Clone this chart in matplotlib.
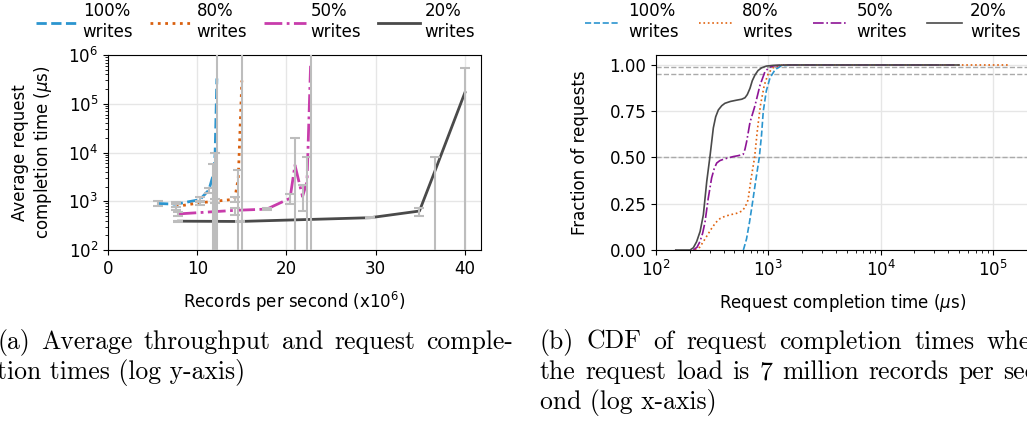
import numpy as np
import matplotlib.pyplot as plt

# ---- data: (a) average throughput vs completion time, errorbars as low/high bounds
labels = ['100%\nwrites', '80%\nwrites', '50%\nwrites', '20%\nwrites']

x_100 = [5.6, 7.6, 10.3, 11.3, 11.8, 12.0, 12.2]
y_100 = [900, 870, 1080, 1700, 3500, 9000, 330000]
lo_100 = [790, 780, 960, 1500, 0, 0, 0]
hi_100 = [1010, 980, 1220, 1900, 5800, 10000, 3e6]

x_80 = [7.6, 10.3, 12.0, 14.2, 14.6, 15.0]
y_80 = [780, 930, 1000, 1100, 3000, 300000]
lo_80 = [660, 830, 900, 950, 0, 0]
hi_80 = [870, 1030, 1100, 1200, 4400, 3e6]

x_50 = [7.9, 14.2, 17.8, 20.4, 20.95, 21.8, 22.3, 22.7]
y_50 = [550, 650, 690, 1150, 5500, 1250, 2500, 600000]
lo_50 = [510, 520, 650, 880, 0, 630, 0, 0]
hi_50 = [590, 720, 730, 1400, 20000, 2150, 8100, 3e6]

x_20 = [7.9, 14.8, 29.4, 34.9, 36.6, 40.0]
y_20 = [390, 385, 460, 630, 4000, 170000]
lo_20 = [380, 375, 450, 500, 0, 0]
hi_20 = [400, 395, 470, 720, 8100, 540000]

# ---- data: (b) CDF of completion times at 7M records/s
cdf_x_100 = [600, 640, 680, 721, 775, 831, 870, 902, 960, 1035, 1150, 1300, 1600, 30000]
cdf_y_100 = [0, 0.06, 0.15, 0.25, 0.38, 0.5, 0.62, 0.75, 0.86, 0.93, 0.975, 0.995, 1.0, 1.0]

cdf_x_80 = [222, 245, 264, 290, 313, 340, 372, 410, 456, 520, 580, 620, 660, 700, 755, 800, 850, 920, 1000, 1100, 1300, 1700, 140000]
cdf_y_80 = [0, 0.015, 0.045, 0.085, 0.117, 0.148, 0.17, 0.182, 0.19, 0.198, 0.21, 0.23, 0.27, 0.38, 0.5, 0.65, 0.78, 0.89, 0.955, 0.985, 0.999, 1.0, 1.0]

cdf_x_50 = [215, 232, 246, 260, 273, 292, 313, 330, 347, 370, 397, 440, 488, 540, 598, 620, 641, 687, 761, 843, 934, 1020, 1109, 1350, 45000]
cdf_y_50 = [0, 0.015, 0.045, 0.09, 0.15, 0.28, 0.39, 0.44, 0.47, 0.483, 0.49, 0.498, 0.505, 0.51, 0.517, 0.545, 0.585, 0.69, 0.78, 0.89, 0.964, 0.987, 0.995, 1.0, 1.0]

cdf_x_20 = [150, 201, 215, 230, 247, 264, 283, 303, 324, 340, 359, 385, 411, 460, 523, 580, 620, 650, 687, 720, 761, 810, 873, 960, 1109, 1500, 50000]
cdf_y_20 = [0, 0, 0.012, 0.045, 0.1, 0.19, 0.37, 0.51, 0.66, 0.72, 0.757, 0.78, 0.793, 0.803, 0.81, 0.815, 0.823, 0.84, 0.874, 0.915, 0.946, 0.97, 0.985, 0.994, 0.998, 1.0, 1.0]

ref_levels = [0.5, 0.95, 0.99]

caption_a = ['(a) Average throughput and request comple-', 'tion times (log y-axis)']
caption_b = ['(b) CDF of request completion times when', 'the request load is 7 million records per sec-', 'ond (log x-axis)']

# ---- styles
colors_a = ['#2b95cf', '#d9600f', '#c83cab', '#4a4a4a']
colors_b = ['#2b95cf', '#e0620f', '#8e1496', '#4a4a4a']
styles = ['--', ':', '-.', '-']

plt.rcParams['font.size'] = 12

W, H = 1027, 424
fig = plt.figure(figsize=(W / 100, H / 100), dpi=100)
ax_a = fig.add_axes([108 / W, 1 - 250 / H, 373 / W, 195 / H])
ax_b = fig.add_axes([656 / W, 1 - 250 / H, 373 / W, 195 / H])

# ---- panel (a)
series_a = [(x_100, y_100, lo_100, hi_100), (x_80, y_80, lo_80, hi_80),
            (x_50, y_50, lo_50, hi_50), (x_20, y_20, lo_20, hi_20)]
for (x, y, lo, hi), c, ls, lab in zip(series_a, colors_a, styles, labels):
    y = np.array(y, dtype=float)
    yerr = [y - np.array(lo), np.array(hi) - y]   # errorbar wants distances, not bounds
    ax_a.plot(x, y, color=c, ls=ls, lw=2, label=lab, zorder=3)
    ax_a.errorbar(x, y, yerr=yerr, fmt='none', ecolor='#bdbdbd', elinewidth=1.5,
                  capsize=3.5, capthick=1.5, zorder=4)

ax_a.set_yscale('log', nonpositive='clip')
ax_a.set_xlim(0, 41.8)
ax_a.set_ylim(1e2, 1e6)
ax_a.set_xticks([0, 10, 20, 30, 40])
ax_a.grid(True, color='#e6e6e6', lw=1)
ax_a.set_axisbelow(True)
ax_a.set_xlabel('Records per second (x$10^6$)', labelpad=9)
ax_a.set_ylabel('Average request\ncompletion time ($\\mu$s)', labelpad=10)
ax_a.legend(loc='lower left', bbox_to_anchor=(36 / W, 1 - 41 / H), bbox_transform=fig.transFigure,
            ncol=4, frameon=False, handlelength=2.5, columnspacing=1.0, handletextpad=0.3,
            borderaxespad=0, borderpad=0, labelspacing=0)

# ---- panel (b)
series_b = [(cdf_x_100, cdf_y_100), (cdf_x_80, cdf_y_80), (cdf_x_50, cdf_y_50), (cdf_x_20, cdf_y_20)]
for (x, y), c, ls, lab in zip(series_b, colors_b, styles, labels):
    ax_b.plot(x, y, color=c, ls=ls, lw=1.2, label=lab, zorder=3)

for lvl in ref_levels:
    ax_b.axhline(lvl, color='#aaaaaa', ls='--', lw=1, zorder=2)

ax_b.set_xscale('log')
ax_b.set_xlim(1e2, 10 ** (2 + 373 / 112.3))
ax_b.set_ylim(0, 1.054)
ax_b.set_yticks([0, 0.25, 0.5, 0.75, 1.0])
ax_b.grid(True, color='#e6e6e6', lw=1)
ax_b.set_axisbelow(True)
ax_b.set_xlabel('Request completion time ($\\mu$s)', labelpad=9)
ax_b.set_ylabel('Fraction of requests', labelpad=15)
ax_b.legend(loc='lower left', bbox_to_anchor=(585 / W, 1 - 41 / H), bbox_transform=fig.transFigure,
            ncol=4, frameon=False, handlelength=2.1, columnspacing=1.2, handletextpad=0.5,
            borderaxespad=0, borderpad=0, labelspacing=0)


# ---- captions (serif, justified like the paper; last line of a paragraph left ragged)
def caption(lines, x0, x1, y0, size=18.5):
    r = fig.canvas.get_renderer()
    for i, line in enumerate(lines):
        y = 1 - (y0 + 30.5 * i) / H
        if i == len(lines) - 1:
            fig.text(x0 / W, y, line, family='cmr10', fontsize=size, va='center')
            continue
        words = line.split(' ')
        texts = [fig.text(0, y, w, family='cmr10', fontsize=size, va='center') for w in words]
        widths = [t.get_window_extent(r).width for t in texts]
        gap = (x1 - x0 - sum(widths)) / (len(words) - 1)
        x = x0
        for t, w in zip(texts, widths):
            t.set_x(x / W)
            x += w + gap


caption(caption_a, -3, 513, 342)
caption(caption_b, 540, 1045, 342)

fig.savefig('out.png', dpi=100)
